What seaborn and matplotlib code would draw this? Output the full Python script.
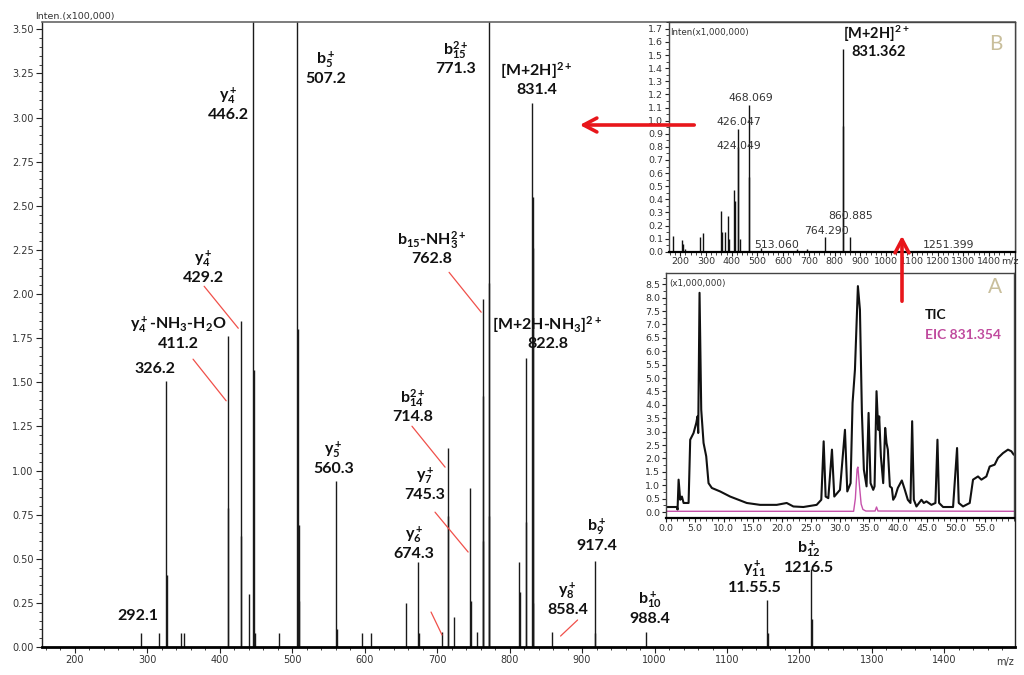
import matplotlib
matplotlib.use("Agg")
import matplotlib.pyplot as plt
import seaborn as sns
import pandas as pd
from matplotlib.ticker import MultipleLocator, FormatStrFormatter
from matplotlib.patches import FancyArrowPatch

# ---- main MS/MS spectrum (intensity x100,000) ----
ms2_mz = [292.1, 316.3, 326.2, 327.2, 346.8, 350.6, 411.2, 412.2, 429.2, 430.2,
          440.0, 446.2, 447.2, 449.0, 482.0, 507.2, 508.2, 509.2, 510.2, 560.3,
          561.3, 596.0, 608.6, 657.0, 674.3, 675.3, 707.0, 714.8, 715.3, 723.8,
          745.3, 746.3, 755.0, 762.8, 763.3, 763.8, 771.3, 771.8, 772.3, 813.0,
          814.0, 822.8, 823.3, 831.4, 831.9, 832.4, 832.9, 858.4, 917.4, 918.4,
          988.4, 1155.5, 1156.5, 1216.5, 1217.5]
ms2_int = [0.08, 0.08, 1.51, 0.41, 0.08, 0.08, 1.76, 0.79, 1.85, 0.63,
           0.30, 5.0, 1.57, 0.08, 0.08, 5.0, 1.80, 0.69, 0.26, 0.94,
           0.10, 0.08, 0.08, 0.25, 0.48, 0.08, 0.085, 1.13, 0.74, 0.17,
           0.90, 0.26, 0.085, 1.97, 1.42, 0.60, 5.0, 2.06, 0.74, 0.48,
           0.31, 1.64, 0.71, 3.08, 2.55, 2.26, 0.25, 0.085, 0.49, 0.08,
           0.085, 0.266, 0.08, 0.44, 0.16]

# fragment annotations: ion name, m/z text
ion_names = ["y$_4^+$", "b$_5^+$", "b$_{15}^{2+}$", "[M+2H]$^{2+}$", "y$_4^+$",
             "y$_4^+$-NH$_3$-H$_2$O", "", "", "b$_{15}$-NH$_3^{2+}$",
             "[M+2H-NH$_3$]$^{2+}$", "b$_{14}^{2+}$", "y$_7^+$", "y$_6^+$",
             "y$_5^+$", "y$_8^+$", "b$_9^+$", "b$_{10}^+$", "y$_{11}^+$", "b$_{12}^+$"]
ion_values = ["446.2", "507.2", "771.3", "831.4", "429.2", "411.2", "326.2",
              "292.1", "762.8", "822.8", "714.8", "745.3", "674.3", "560.3",
              "858.4", "917.4", "988.4", "11.55.5", "1216.5"]
# label placement (m/z, baseline of value line)
label_xy = [(411.9, 2.99), (546.3, 3.194), (726.3, 3.25), (837.1, 3.131),
            (377.3, 2.067), (342.7, 1.693), (310.8, 1.552), (287.3, 0.153),
            (693.1, 2.174), (852.4, 1.693), (666.8, 1.28), (683.4, 0.838),
            (668.1, 0.504), (557.3, 0.985), (880.1, 0.187), (920.2, 0.549),
            (993.6, 0.136), (1137.7, 0.311), (1212.5, 0.425)]
leader_lines = [((378.7, 2.044), (425.8, 1.806)), ((363.4, 1.631), (409.1, 1.395)),
                ((716.6, 2.123), (760.9, 1.897)), ((665.4, 1.251), (711.1, 1.019)),
                ((697.2, 0.764), (742.9, 0.538)), ((691.7, 0.198), (706.9, 0.068)),
                ((893.9, 0.153), (870.4, 0.062))]

# ---- inset B: full MS (intensity x1,000,000) ----
ms1_mz = [172, 205, 211, 218, 276, 289, 360, 361, 373, 384, 390, 410, 411,
          424.049, 426.047, 434, 468.069, 469, 513.06, 652, 691, 764.29,
          831.362, 831.86, 860.885, 1251.399]
ms1_int = [0.12, 0.09, 0.06, 0.02, 0.11, 0.14, 0.31, 0.15, 0.15, 0.27, 0.10,
           0.47, 0.39, 0.80, 0.94, 0.10, 1.12, 0.57, 0.03, 0.02, 0.02, 0.11,
           1.55, 0.96, 0.11, 0.005]
ms1_labels = ["468.069", "426.047", "424.049", "860.885", "764.290", "513.060", "1251.399"]
ms1_label_xy = [(473, 1.17), (428, 0.99), (428, 0.81), (862, 0.27), (769, 0.16),
                (574, 0.055), (1242, 0.055)]

# ---- inset A: chromatograms (intensity x1,000,000) ----
tic_time = [0.06, 1.95, 2.06, 2.24, 2.52, 2.81, 3.10, 3.96, 4.24, 4.82, 5.28, 5.50,
            5.62, 5.85, 6.14, 6.54, 7.00, 7.40, 7.97, 9.40, 11.12, 13.99, 16.28,
            19.15, 20.87, 22.02, 23.74, 26.03, 26.83, 27.24, 27.58, 28.04, 28.67,
            29.07, 30.05, 30.91, 31.31, 31.88, 32.22, 32.63, 33.14, 33.49, 33.83,
            34.17, 34.63, 34.98, 35.32, 35.78, 36.01, 36.35, 36.64, 36.81, 37.10,
            37.50, 37.84, 38.07, 38.30, 38.65, 38.99, 39.22, 39.56, 40.02, 40.71,
            41.23, 41.74, 42.20, 42.49, 42.78, 43.23, 44.09, 44.50, 44.95, 45.81,
            46.50, 46.85, 47.13, 47.82, 49.54, 50.23, 50.52, 51.26, 52.41, 52.98,
            53.84, 54.42, 55.28, 55.85, 56.71, 57.28, 58.14, 59.00, 59.58, 60.0]
tic_int = [0.19, 0.19, 0.09, 1.21, 0.46, 0.58, 0.34, 0.34, 2.70, 2.95, 3.32, 3.57,
           2.95, 8.18, 3.82, 2.58, 2.08, 1.08, 0.90, 0.77, 0.58, 0.34, 0.27,
           0.27, 0.34, 0.21, 0.19, 0.27, 0.46, 2.64, 0.58, 0.52, 2.33,
           0.58, 0.83, 3.07, 0.77, 1.08, 4.07, 5.31, 8.43, 7.55, 3.70,
           1.58, 0.96, 3.70, 1.08, 0.83, 0.96, 4.51, 3.07, 3.57, 2.08,
           1.08, 3.14, 2.58, 2.33, 0.96, 0.90, 0.46, 0.58, 0.90, 1.18,
           0.83, 0.46, 0.34, 3.39, 0.46, 0.21, 0.46, 0.34, 0.40, 0.27,
           0.34, 2.70, 0.34, 0.19, 0.19, 2.39, 0.34, 0.21, 0.34, 1.21,
           1.33, 1.21, 1.33, 1.70, 1.77, 2.02, 2.20, 2.33, 2.27, 2.14]
eic_time = [0.0, 32.4, 32.7, 33.0, 33.14, 33.4, 33.7, 34.0, 34.5, 36.1, 36.35, 36.6, 60.0]
eic_int = [0.03, 0.03, 0.5, 1.6, 1.68, 1.0, 0.3, 0.1, 0.04, 0.04, 0.19, 0.04, 0.03]

sns.set_theme(style="ticks")
plt.rcParams["font.family"] = ["DejaVu Sans"]
plt.rcParams["mathtext.fontset"] = "custom"
plt.rcParams["mathtext.rm"] = "Lato:bold"
plt.rcParams["mathtext.it"] = "Lato:bold"
plt.rcParams["mathtext.bf"] = "Lato:bold"
plt.rcParams["mathtext.default"] = "rm"

tick_col = "#333333"
red = "#e8161b"
red_thin = "#f0504a"
lab_font = dict(family="Lato", weight="bold", size=11.5, color="#111111")


def style_ticks(ax, size):
    ax.tick_params(axis="both", which="major", length=4, width=0.8,
                   labelsize=size, colors="#222222", labelcolor=tick_col, pad=2)
    ax.tick_params(axis="both", which="minor", length=2, width=0.6, colors="#222222")


fig = plt.figure(figsize=(10.24, 6.75), dpi=100)

# ---- main spectrum ----
ax = fig.add_axes([0.041, 0.0415, 0.950, 0.9255])
ax.vlines(ms2_mz, 0, ms2_int, color="#1a1a1a", lw=1.0)
ax.set_xlim(155, 1497)
ax.set_ylim(0, 3.54)
ax.set_xticks(list(range(200, 1500, 100)))
ax.xaxis.set_minor_locator(MultipleLocator(20))
ax.yaxis.set_major_locator(MultipleLocator(0.25))
ax.yaxis.set_minor_locator(MultipleLocator(0.05))
ax.yaxis.set_major_formatter(FormatStrFormatter("%.2f"))
style_ticks(ax, 7)
for s in ["left", "right"]:
    ax.spines[s].set_color("#222222")
    ax.spines[s].set_linewidth(1.0)
ax.spines["top"].set_color("#666666")
ax.spines["top"].set_linewidth(1.2)
ax.spines["bottom"].set_color("#000000")
ax.spines["bottom"].set_linewidth(2.0)

for name, val, (x, y) in zip(ion_names, ion_values, label_xy):
    ax.text(x, y, val, ha="center", va="baseline", **lab_font)
    if name:
        ax.annotate(name, (x, y), xytext=(0, 13.5), textcoords="offset points",
                    ha="center", va="baseline", **lab_font)
for (x0, y0), (x1, y1) in leader_lines:
    ax.plot([x0, x1], [y0, y1], color=red_thin, lw=0.9)

fig.text(0.034, 1 - 16 / 675, "Inten.(x100,000)", fontsize=6.8, color=tick_col, va="center")
fig.text(1005 / 1024, 1 - 662 / 675, "m/z", fontsize=7, color=tick_col, va="center", ha="center")

# ---- inset B: MS spectrum ----
axb = fig.add_axes([0.653, 0.627, 0.338, 0.340])
axb.set_facecolor("white")
axb.vlines(ms1_mz, 0, ms1_int, color="#111111", lw=1.0)
axb.set_xlim(155, 1500)
axb.set_ylim(0, 1.75)
axb.set_xticks(list(range(200, 1500, 100)))
axb.xaxis.set_minor_locator(MultipleLocator(20))
axb.yaxis.set_major_locator(MultipleLocator(0.1))
axb.yaxis.set_minor_locator(MultipleLocator(0.05))
axb.yaxis.set_major_formatter(FormatStrFormatter("%.1f"))
style_ticks(axb, 6.8)
axb.tick_params(axis="both", which="major", length=3, pad=1)
for s in axb.spines.values():
    s.set_color("#444444")
    s.set_linewidth(1.0)
axb.spines["bottom"].set_color("#000000")
axb.spines["bottom"].set_linewidth(1.6)
for txt, (x, y) in zip(ms1_labels, ms1_label_xy):
    axb.text(x, y, txt, ha="center", va="center", fontsize=7.8, color="#333333")
axb.text(963, 1.66, "[M+2H]$^{2+}$", ha="center", va="center", **dict(lab_font, size=10.5))
axb.text(970, 1.52, "831.362", ha="center", va="center", **dict(lab_font, size=10.5))
axb.text(0.005, 0.975, "Inten(x1,000,000)", transform=axb.transAxes, fontsize=6.3,
         color=tick_col, va="top", ha="left")
axb.text(0.965, 0.95, "B", transform=axb.transAxes, fontsize=15, family="Lato",
         color="#c9bf9c", va="top", ha="right")
fig.text(1010 / 1024, 1 - 261 / 675, "m/z", fontsize=6.8, color=tick_col, va="center", ha="center")

# ---- inset A: chromatograms ----
axa = fig.add_axes([0.650, 0.2326, 0.340, 0.363])
axa.set_facecolor("white")
tic = pd.DataFrame({"time": tic_time, "intensity": tic_int})
eic = pd.DataFrame({"time": eic_time, "intensity": eic_int})
sns.lineplot(data=tic, x="time", y="intensity", ax=axa, color="#111111", lw=1.5, sort=False)
sns.lineplot(data=eic, x="time", y="intensity", ax=axa, color="#c651ab", lw=1.0, sort=False)
axa.set_xlim(0, 60)
axa.set_ylim(-0.22, 8.92)
axa.set_xlabel("")
axa.set_ylabel("")
axa.set_xticks([0, 5, 10, 15, 20, 25, 30, 35, 40, 45, 50, 55])
axa.xaxis.set_minor_locator(MultipleLocator(1))
axa.xaxis.set_major_formatter(FormatStrFormatter("%.1f"))
axa.yaxis.set_major_locator(MultipleLocator(0.5))
axa.yaxis.set_minor_locator(MultipleLocator(0.25))
axa.yaxis.set_major_formatter(FormatStrFormatter("%.1f"))
style_ticks(axa, 6.8)
axa.tick_params(axis="both", which="major", length=3, pad=1)
for s in axa.spines.values():
    s.set_color("#444444")
    s.set_linewidth(1.0)
axa.spines["bottom"].set_color("#000000")
axa.spines["bottom"].set_linewidth(1.6)
axa.text(0.01, 0.955, "(x1,000,000)", transform=axa.transAxes, fontsize=6.3,
         color=tick_col, va="center", ha="left")
axa.text(0.965, 0.985, "A", transform=axa.transAxes, fontsize=15, family="Lato",
         color="#c9bf9c", va="top", ha="right")
axa.text(0.745, 0.83, "TIC", transform=axa.transAxes, family="Lato", weight="bold",
         fontsize=10, color="#111111", va="center", ha="left")
axa.text(0.745, 0.745, "EIC 831.354", transform=axa.transAxes, family="Lato", weight="bold",
         fontsize=10, color="#c04b9e", va="center", ha="left")

# ---- red arrows linking the panels ----
for (x0, y0), (x1, y1) in [((697, 125), (577, 125)), ((902, 304), (902, 233))]:
    arr = FancyArrowPatch((x0 / 1024, 1 - y0 / 675), (x1 / 1024, 1 - y1 / 675),
                          transform=fig.transFigure, arrowstyle="->,head_length=0.95,head_width=0.5",
                          mutation_scale=10, lw=2.6, color=red)
    fig.add_artist(arr)

fig.savefig("out.png", dpi=100)
